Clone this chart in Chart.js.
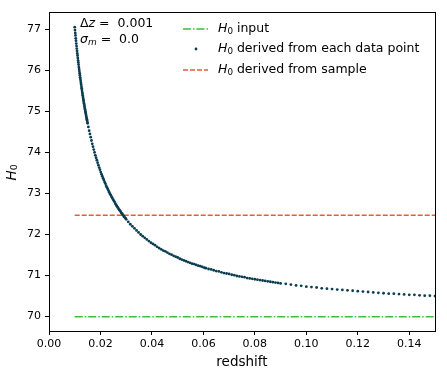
<!DOCTYPE html>
<html>
<head>
<meta charset="utf-8">
<script src="https://cdn.jsdelivr.net/npm/chart.js@4.4.1/dist/chart.umd.min.js"></script>
<style>
  html, body { margin: 0; padding: 0; background: #fff; }
  #wrap { width: 447px; height: 377px; }
</style>
</head>
<body>
<div id="wrap"><canvas id="hubbleChart"></canvas></div>
<script>
// redshift of each mock data point (denser at low z, as in the picture)
const redshift = [
  0.0100, 0.0101, 0.0102, 0.0103, 0.0104, 0.0105, 0.0106, 0.0107, 0.0108, 0.0109,
  0.0110, 0.0111, 0.0112, 0.0113, 0.0114, 0.0115, 0.0116, 0.0117, 0.0118, 0.0119,
  0.0120, 0.0121, 0.0122, 0.0123, 0.0124, 0.0125, 0.0126, 0.0127, 0.0128, 0.0129,
  0.0130, 0.0131, 0.0132, 0.0133, 0.0134, 0.0135, 0.0136, 0.0137, 0.0138, 0.0139,
  0.0140, 0.0141, 0.0142, 0.0143, 0.0144, 0.0145, 0.0146, 0.0147, 0.0148, 0.0149,
  0.0150,
  0.0153, 0.0156, 0.0159, 0.0162, 0.0165, 0.0168, 0.0171, 0.0174, 0.0177, 0.0180,
  0.0183, 0.0186, 0.0189, 0.0192, 0.0195, 0.0198, 0.0201, 0.0204, 0.0207, 0.0210,
  0.0213, 0.0216, 0.0219, 0.0222, 0.0225, 0.0228, 0.0231, 0.0234, 0.0237, 0.0240,
  0.0243, 0.0246, 0.0249, 0.0252, 0.0255, 0.0258, 0.0261, 0.0264, 0.0267, 0.0270,
  0.0273, 0.0276, 0.0279, 0.0282, 0.0285, 0.0288, 0.0291, 0.0294, 0.0297, 0.0300,
  0.0308, 0.0316, 0.0324, 0.0332, 0.0340, 0.0348, 0.0356, 0.0364, 0.0372, 0.0380,
  0.0388, 0.0396, 0.0404, 0.0412, 0.0420, 0.0428, 0.0436, 0.0444, 0.0452, 0.0460,
  0.0468, 0.0476, 0.0484, 0.0492, 0.0500, 0.0508, 0.0516, 0.0524, 0.0532, 0.0540,
  0.0548, 0.0556, 0.0564, 0.0572, 0.0580, 0.0588, 0.0596, 0.0604,
  0.061, 0.062, 0.063, 0.064, 0.065, 0.066, 0.067, 0.068, 0.069, 0.070,
  0.071, 0.072, 0.073, 0.074, 0.075, 0.076, 0.077, 0.078, 0.079, 0.080,
  0.081, 0.082, 0.083, 0.084, 0.085, 0.086, 0.087, 0.088, 0.089, 0.090,
  0.092, 0.094, 0.096, 0.098, 0.100, 0.102, 0.104, 0.106, 0.108, 0.110,
  0.112, 0.114, 0.116, 0.118, 0.120, 0.122, 0.124, 0.126, 0.128, 0.130,
  0.132, 0.134, 0.136, 0.138, 0.140, 0.142, 0.144, 0.146, 0.148, 0.150
];

// H0 derived from each data point
const h0Points = [
  77.05, 76.98, 76.91, 76.85, 76.78, 76.72, 76.65, 76.59, 76.53, 76.47,
  76.41, 76.36, 76.30, 76.24, 76.19, 76.14, 76.08, 76.03, 75.98, 75.93,
  75.88, 75.83, 75.79, 75.74, 75.69, 75.65, 75.60, 75.56, 75.52, 75.47,
  75.43, 75.39, 75.35, 75.31, 75.27, 75.23, 75.19, 75.16, 75.12, 75.08,
  75.05, 75.01, 74.98, 74.94, 74.91, 74.87, 74.84, 74.81, 74.78, 74.74,
  74.71,
  74.62, 74.53, 74.45, 74.37, 74.29, 74.21, 74.14, 74.07, 74.00, 73.93,
  73.87, 73.81, 73.75, 73.69, 73.63, 73.58, 73.52, 73.47, 73.42, 73.37,
  73.33, 73.28, 73.24, 73.19, 73.15, 73.11, 73.07, 73.03, 72.99, 72.96,
  72.92, 72.89, 72.85, 72.82, 72.79, 72.75, 72.72, 72.69, 72.66, 72.63,
  72.60, 72.58, 72.55, 72.52, 72.50, 72.47, 72.44, 72.42, 72.40, 72.37,
  72.31, 72.25, 72.20, 72.15, 72.10, 72.05, 72.00, 71.96, 71.92, 71.88,
  71.84, 71.80, 71.77, 71.74, 71.70, 71.67, 71.64, 71.61, 71.59, 71.56,
  71.53, 71.51, 71.48, 71.46, 71.44, 71.41, 71.39, 71.37, 71.35, 71.33,
  71.31, 71.29, 71.28, 71.26, 71.24, 71.23, 71.21, 71.19,
  71.18, 71.16, 71.15, 71.13, 71.11, 71.10, 71.08, 71.06, 71.05, 71.04,
  71.02, 71.01, 70.99, 70.98, 70.97, 70.96, 70.94, 70.93, 70.92, 70.91,
  70.90, 70.89, 70.88, 70.87, 70.86, 70.85, 70.84, 70.83, 70.82, 70.81,
  70.80, 70.78, 70.76, 70.75, 70.73, 70.72, 70.71, 70.69, 70.68, 70.67,
  70.66, 70.65, 70.64, 70.63, 70.62, 70.61, 70.60, 70.59, 70.58, 70.57,
  70.56, 70.56, 70.55, 70.54, 70.53, 70.53, 70.52, 70.51, 70.51, 70.50
];

const h0Input = 70.0;
const h0Sample = 72.47;
const zRange = [0.01, 0.15];

const xTicks = [0.00, 0.02, 0.04, 0.06, 0.08, 0.10, 0.12, 0.14];
const yTicks = [70, 71, 72, 73, 74, 75, 76, 77];

// [upright prefix, italic symbol, italic subscript, rest]
const annotation = [['\u0394', 'z', '', ' =  0.001'], ['', '\u03c3', 'm', ' =  0.0']];

const legendLabels = ['input', 'derived from each data point', 'derived from sample'];

const colGreen = '#3cbf3c';
const colDots = '#0a3d50';
const colRed = '#ee5a30';
const FONT = "'DejaVu Sans', sans-serif";

// draws "H" italic with subscript 0, returns width
function drawH0(ctx, x, y, size) {
    ctx.font = 'italic ' + size + 'px ' + FONT;
    ctx.fillText('H', x, y);
    let w = ctx.measureText('H').width;
    ctx.font = (size * 0.7) + 'px ' + FONT;
    ctx.fillText('0', x + w, y + size * 0.2);
    return w + ctx.measureText('0').width;
}

const framePlugin = {
    id: 'frame',
    afterDraw(chart) {
        const ctx = chart.ctx;
        const a = chart.chartArea;
        ctx.save();
        ctx.strokeStyle = '#000';
        ctx.lineWidth = 1;
        ctx.strokeRect(Math.round(a.left) + 0.5, Math.round(a.top) + 0.5,
            Math.round(a.right - a.left), Math.round(a.bottom - a.top));

        ctx.fillStyle = '#000';
        ctx.textBaseline = 'middle';
        ctx.textAlign = 'left';

        // annotation text
        annotation.forEach((row, i) => {
            let x = 80, y = 24 + i * 16;
            ctx.font = '12.5px ' + FONT;
            if (row[0]) { ctx.fillText(row[0], x, y); x += ctx.measureText(row[0]).width; }
            ctx.font = 'italic 12.5px ' + FONT;
            ctx.fillText(row[1], x, y); x += ctx.measureText(row[1]).width;
            if (row[2]) {
                ctx.font = 'italic 9px ' + FONT;
                ctx.fillText(row[2], x, y + 3); x += ctx.measureText(row[2]).width;
            }
            ctx.font = '12.5px ' + FONT;
            ctx.fillText(row[3], x, y);
        });

        // legend
        const rows = [29, 49, 70];
        ctx.lineWidth = 1.5;
        ctx.strokeStyle = colGreen;
        ctx.setLineDash([8, 2, 1.5, 2]);
        ctx.beginPath(); ctx.moveTo(183, rows[0]); ctx.lineTo(208, rows[0]); ctx.stroke();
        ctx.strokeStyle = colRed;
        ctx.setLineDash([5, 2]);
        ctx.beginPath(); ctx.moveTo(183, rows[2]); ctx.lineTo(208, rows[2]); ctx.stroke();
        ctx.setLineDash([]);
        ctx.fillStyle = colDots;
        ctx.beginPath(); ctx.arc(196, rows[1], 1.4, 0, Math.PI * 2); ctx.fill();

        ctx.fillStyle = '#000';
        legendLabels.forEach((t, i) => {
            const w = drawH0(ctx, 218, rows[i], 12.5);
            ctx.font = '12.5px ' + FONT;
            ctx.fillText(' ' + t, 218 + w, rows[i]);
        });

        // axis titles
        ctx.textAlign = 'center';
        ctx.font = '13.5px ' + FONT;
        ctx.fillText('redshift', (a.left + a.right) / 2, 362);

        ctx.save();
        ctx.translate(12, (a.top + a.bottom) / 2);
        ctx.rotate(-Math.PI / 2);
        ctx.textAlign = 'left';
        drawH0(ctx, -9, 0, 13.5);
        ctx.restore();

        ctx.restore();
    }
};

new Chart(document.getElementById('hubbleChart'), {
    type: 'scatter',
    data: {
        datasets: [
            {
                label: 'H0 input',
                type: 'line',
                data: zRange.map(z => ({ x: z, y: h0Input })),
                borderColor: colGreen,
                borderWidth: 1.5,
                borderDash: [8, 2, 1.5, 2],
                pointRadius: 0,
                order: 3
            },
            {
                label: 'H0 derived from each data point',
                data: redshift.map((z, i) => ({ x: z, y: h0Points[i] })),
                backgroundColor: colDots,
                borderColor: colDots,
                borderWidth: 0,
                pointRadius: 1.4,
                order: 1
            },
            {
                label: 'H0 derived from sample',
                type: 'line',
                data: zRange.map(z => ({ x: z, y: h0Sample })),
                borderColor: colRed,
                borderWidth: 1.5,
                borderDash: [5, 2],
                pointRadius: 0,
                order: 2
            }
        ]
    },
    options: {
        responsive: true,
        maintainAspectRatio: false,
        animation: false,
        layout: { padding: { left: 0, top: 12, right: 12, bottom: 0 } },
        plugins: {
            legend: { display: false },
            tooltip: { enabled: false }
        },
        scales: {
            x: {
                type: 'linear',
                min: 0,
                max: 0.15,
                afterBuildTicks: s => { s.ticks = xTicks.map(v => ({ value: v })); },
                afterFit: s => { s.height = 46; },
                ticks: {
                    color: '#000',
                    padding: 3,
                    font: { family: FONT, size: 11 },
                    callback: v => v.toFixed(2)
                },
                grid: { drawOnChartArea: false, color: '#000', tickLength: 4 },
                border: { color: '#000' }
            },
            y: {
                min: 69.65,
                max: 77.42,
                afterBuildTicks: s => { s.ticks = yTicks.map(v => ({ value: v })); },
                afterFit: s => { s.width = 49; },
                ticks: {
                    color: '#000',
                    padding: 4,
                    font: { family: FONT, size: 11 },
                    callback: v => String(v)
                },
                grid: { drawOnChartArea: false, color: '#000', tickLength: 4 },
                border: { color: '#000' }
            }
        }
    },
    plugins: [framePlugin]
});
</script>
</body>
</html>
